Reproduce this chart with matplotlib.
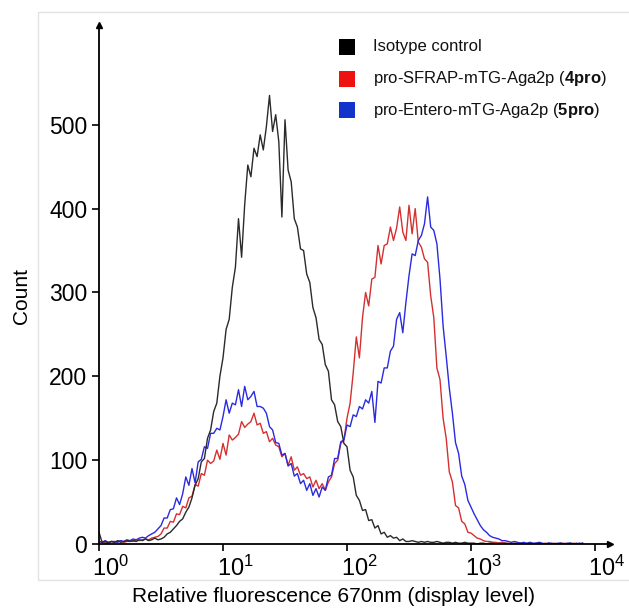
import matplotlib
matplotlib.use("Agg")
import matplotlib.pyplot as plt
import matplotlib.transforms as mtransforms
import numpy as np
from matplotlib.patches import Rectangle
from matplotlib.ticker import NullLocator

plt.rcParams['font.family'] = ['Liberation Sans', 'DejaVu Sans']
plt.rcParams['mathtext.fontset'] = 'custom'
plt.rcParams['mathtext.rm'] = 'Liberation Sans'
plt.rcParams['mathtext.it'] = 'Liberation Sans:italic'
plt.rcParams['mathtext.bf'] = 'Liberation Sans:bold'

# 通道位置 (log10 尺度, 0.025 一格)
log_channel = np.arange(157) * 0.025
channel = 10 ** log_channel

# Isotype control
isotype = [14, 2, 3, 1, 3, 2, 4, 2, 3, 4,
           3, 4, 3, 5, 4, 6, 4, 5, 7, 5,
           6, 8, 12, 14, 18, 22, 27, 30, 38, 44,
           55, 70, 78, 98, 102, 126, 136, 158, 168, 200,
           222, 256, 268, 306, 330, 388, 342, 405, 452, 438,
           472, 462, 488, 470, 498, 535, 492, 512, 480, 390,
           506, 446, 432, 388, 378, 352, 350, 322, 312, 282,
           270, 244, 238, 214, 206, 172, 166, 146, 140, 120,
           116, 88, 80, 58, 52, 40, 41, 28, 29, 19,
           22, 12, 14, 8, 10, 7, 8, 4, 6, 3,
           3, 4, 3, 2, 3, 2, 3, 2, 2, 3,
           2, 1, 2, 2, 1, 2, 1, 1, 2, 1,
           1, 1, 0, 1, 1, 0, 1, 1, 0, 1,
           0, 1, 0, 1, 0, 0, 1, 0, 0, 1,
           0, 0, 1, 0, 0, 1, 0, 0, 0, 1,
           0, 0, 1, 0, 0, 1, 0]

# pro-SFRAP-mTG-Aga2p (4pro)
sfrap = [2, 3, 1, 2, 3, 2, 3, 4, 2, 3,
         4, 3, 5, 4, 5, 6, 5, 7, 8, 9,
         12, 19, 19, 27, 26, 36, 35, 45, 43, 55,
         57, 71, 69, 84, 82, 100, 96, 99, 112, 101,
         120, 106, 130, 124, 127, 131, 146, 139, 143, 146,
         156, 142, 144, 132, 134, 122, 126, 118, 116, 104,
         108, 94, 104, 88, 92, 82, 84, 78, 80, 68,
         76, 66, 72, 64, 74, 80, 96, 100, 120, 124,
         150, 168, 204, 247, 222, 270, 300, 284, 316, 318,
         356, 334, 356, 358, 378, 362, 377, 402, 372, 362,
         404, 370, 400, 360, 354, 340, 336, 296, 270, 210,
         196, 150, 126, 86, 74, 46, 43, 27, 24, 14,
         13, 10, 7, 6, 4, 3, 3, 2, 2, 1,
         2, 1, 1, 0, 1, 1, 0, 1, 0, 1,
         0, 1, 0, 0, 1, 0, 0, 1, 0, 0,
         1, 0, 0, 1, 0, 0, 1]

# pro-Entero-mTG-Aga2p (5pro)
entero = [3, 2, 4, 2, 3, 3, 2, 4, 3, 5,
          4, 6, 5, 7, 8, 7, 10, 12, 14, 18,
          22, 31, 31, 41, 42, 55, 47, 60, 80, 70,
          90, 73, 98, 101, 116, 114, 132, 132, 138, 136,
          152, 172, 156, 168, 166, 184, 164, 188, 172, 176,
          182, 164, 164, 162, 156, 140, 136, 121, 120, 106,
          108, 93, 96, 81, 84, 72, 76, 64, 72, 58,
          66, 56, 68, 64, 80, 82, 102, 102, 122, 124,
          142, 140, 154, 152, 164, 161, 172, 168, 182, 145,
          194, 192, 210, 210, 230, 236, 268, 276, 252, 288,
          320, 346, 344, 362, 368, 382, 414, 378, 374, 358,
          316, 260, 224, 186, 156, 121, 108, 81, 71, 52,
          44, 36, 29, 22, 17, 14, 10, 8, 7, 6,
          4, 4, 3, 2, 3, 2, 1, 2, 1, 2,
          1, 1, 2, 1, 0, 1, 1, 0, 1, 1,
          0, 1, 1, 0, 1, 0, 1]

labels = ['Isotype control',
          r'pro-SFRAP-mTG-Aga2p ($\mathbf{4pro}$)',
          r'pro-Entero-mTG-Aga2p ($\mathbf{5pro}$)']
legend_colors = ['#000000', '#ee1111', '#1133cc']
x_ticks = [1, 10, 100, 1000, 10000]
x_ticklabels = [r'$10^{0}$', r'$10^{1}$', r'$10^{2}$', r'$10^{3}$', r'$10^{4}$']
y_ticks = [0, 100, 200, 300, 400, 500]

W, H = 629, 610
fig = plt.figure(figsize=(W / 100, H / 100), dpi=100)
ax = fig.add_axes([99 / W, 66 / H, 511 / W, 519 / H])

ax.plot(channel, sfrap, color='#d43030', lw=1.0)
ax.plot(channel, entero, color='#2a2ae0', lw=1.0)
ax.plot(channel, isotype, color='#2a2a2a', lw=1.0)

ax.set_xscale('log')
ax.set_xlim(1, 10 ** (511 / 124))
ax.set_ylim(0, 619)
ax.xaxis.set_minor_locator(NullLocator())
ax.set_xticks(x_ticks)
ax.set_xticklabels(x_ticklabels, fontsize=17)
ax.set_yticks(y_ticks)
ax.tick_params(axis='y', labelsize=16.5)
ax.tick_params(width=1.2, length=5, direction='out', colors='black')

# x 轴刻度文字略向右偏
offset = mtransforms.ScaledTranslation(12 / 100, 0, fig.dpi_scale_trans)
for lab in ax.get_xticklabels():
    lab.set_transform(lab.get_transform() + offset)

for s in ['top', 'right']:
    ax.spines[s].set_visible(False)
for s in ['left', 'bottom']:
    ax.spines[s].set_linewidth(1.3)

# 坐标轴箭头
ax.plot(1, 0, '>k', transform=ax.transAxes, clip_on=False, ms=5)
ax.plot(0, 1, '^k', transform=ax.transAxes, clip_on=False, ms=4)

fig.text(334 / W, 1 - 596 / H, 'Relative fluorescence 670nm (display level)',
         ha='center', va='center', fontsize=15)
fig.text(21 / W, 1 - 296 / H, 'Count', rotation=90,
         ha='center', va='center', fontsize=15)

# 浅灰色边框
fig.add_artist(Rectangle((38 / W, 1 - 580 / H), 600 / W, 568 / H,
                         transform=fig.transFigure, fill=False,
                         edgecolor='#e2e2e2', lw=1))

# 图例
for k in range(3):
    yc = 47 + k * 31.5
    fig.add_artist(Rectangle((339 / W, 1 - (yc + 8) / H), 16 / W, 16 / H,
                             transform=fig.transFigure,
                             facecolor=legend_colors[k], edgecolor='none'))
    fig.text(373 / W, 1 - yc / H, labels[k], ha='left', va='center',
             fontsize=12, color='#111111')

plt.savefig('out.png', dpi=100)
